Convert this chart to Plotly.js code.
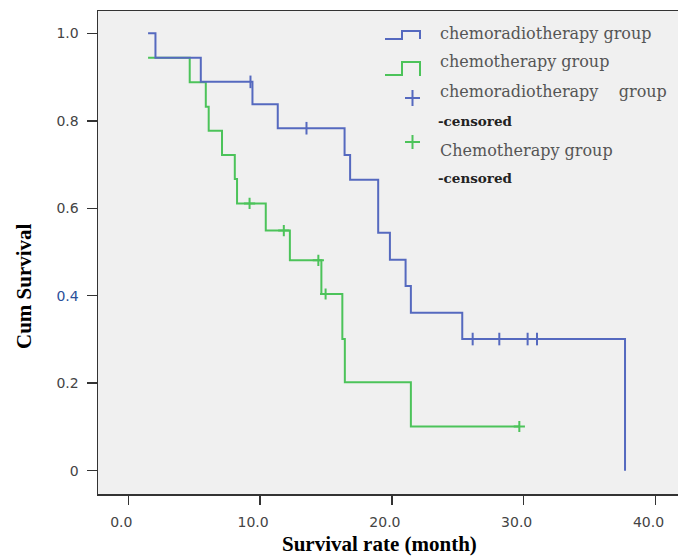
<!DOCTYPE html>
<html>
<head>
<meta charset="utf-8">
<script src="https://cdn.plot.ly/plotly-3.0.1.min.js"></script>
<style>html,body{margin:0;padding:0;background:#fff;}#chart{width:678px;height:558px;}</style>
</head>
<body>
<div id="chart"></div>
<script>
// ---- data ----
const BLUE_NAME = "chemoradiotherapy group";
const GREEN_NAME = "chemotherapy group";
const BLUE_CENS_NAME = "chemoradiotherapy&nbsp;&nbsp;&nbsp;&nbsp;group";
const GREEN_CENS_NAME = "Chemotherapy group";
const CENS_SUFFIX = "-censored";

const BLUE_T = [1.50, 2.06, 5.50, 9.42, 11.34, 16.41, 16.83, 18.96, 19.85, 21.04, 21.44, 25.34, 37.69];
const BLUE_S = [1.000, 0.944, 0.889, 0.838, 0.783, 0.722, 0.665, 0.544, 0.482, 0.422, 0.361, 0.301, 0.000];
const BLUE_CENS_T = [9.27, 13.52, 26.13, 28.15, 30.30, 31.01];
const BLUE_CENS_S = [0.889, 0.783, 0.301, 0.301, 0.301, 0.301];

const GREEN_T = [1.50, 4.66, 5.88, 6.10, 7.11, 8.08, 8.25, 10.43, 12.26, 14.65, 16.24, 16.43, 21.44, 29.67];
const GREEN_S = [0.944, 0.888, 0.832, 0.777, 0.722, 0.667, 0.611, 0.549, 0.481, 0.404, 0.301, 0.202, 0.101, 0.101];
const GREEN_CENS_T = [9.20, 11.80, 14.42, 14.97, 29.67];
const GREEN_CENS_S = [0.611, 0.549, 0.481, 0.404, 0.101];

const X_TICKS = [0, 10, 20, 30, 40];
const X_TICK_LABELS = ["0.0", "10.0", "20.0", "30.0", "40.0"];
const Y_TICKS = [0, 0.2, 0.4, 0.6, 0.8, 1.0];
const Y_TICK_LABELS = ["0", "0.2", "<span style='color:#2a4f9a'>0.4</span>", "0.6", "0.8", "1.0"];

const X_TITLE = "Survival rate (month)";
const Y_TITLE = "Cum Survival";

// ---- styling / layout ----
const BLUE = "#5569bf";
const GREEN = "#4cc35a";
const W = 678, H = 558;
const M = {l: 98, r: 0, t: 11, b: 64};
const PW = W - M.l - M.r, PH = H - M.t - M.b;
const px = x => (x - M.l) / PW;          // pixel -> paper (x)
const py = y => (H - M.b - y) / PH;      // pixel -> paper (y)

const traces = [
  {x: GREEN_T, y: GREEN_S, mode: "lines", line: {shape: "hv", color: GREEN, width: 2}, name: GREEN_NAME, showlegend: false},
  {x: BLUE_T, y: BLUE_S, mode: "lines", line: {shape: "hv", color: BLUE, width: 2}, name: BLUE_NAME, showlegend: false},
  {x: GREEN_CENS_T, y: GREEN_CENS_S, mode: "markers", marker: {symbol: "cross-thin-open", size: 8, color: GREEN, line: {color: GREEN, width: 2}}, showlegend: false},
  {x: BLUE_CENS_T, y: BLUE_CENS_S, mode: "markers", marker: {symbol: "line-ns-open", size: 9, color: BLUE, line: {color: BLUE, width: 2}}, showlegend: false}
];

function pathFromPx(pts) {
  return pts.map((p, i) => (i ? "L" : "M") + px(p[0]).toFixed(5) + "," + py(p[1]).toFixed(5)).join(" ");
}

const shapes = [
  // legend step icons
  {type: "path", xref: "paper", yref: "paper", path: pathFromPx([[385, 39], [402, 39], [402, 31], [420, 31], [420, 39]]), line: {color: BLUE, width: 2}},
  {type: "path", xref: "paper", yref: "paper", path: pathFromPx([[385, 75], [402, 75], [402, 62], [420, 62], [420, 76]]), line: {color: GREEN, width: 2}},
  // legend censor crosses
  {type: "line", xref: "paper", yref: "paper", x0: px(405), x1: px(420), y0: py(98), y1: py(98), line: {color: BLUE, width: 2}},
  {type: "line", xref: "paper", yref: "paper", x0: px(412.5), x1: px(412.5), y0: py(90), y1: py(106), line: {color: BLUE, width: 2}},
  {type: "line", xref: "paper", yref: "paper", x0: px(405), x1: px(420), y0: py(142), y1: py(142), line: {color: GREEN, width: 2}},
  {type: "line", xref: "paper", yref: "paper", x0: px(412.5), x1: px(412.5), y0: py(135), y1: py(149), line: {color: GREEN, width: 2}}
];

const legFont = {family: "DejaVu Serif", size: 16, color: "#555"};
const censFont = {family: "DejaVu Serif", size: 13.5, color: "#222", weight: "bold"};
function ann(text, x, y, font, extra) {
  return Object.assign({text: text, xref: "paper", yref: "paper", x: px(x), y: py(y), xanchor: "left", yanchor: "middle", showarrow: false, font: font}, extra || {});
}

const annotations = [
  ann(BLUE_NAME, 438, 33, legFont),
  ann(GREEN_NAME, 438, 62, legFont),
  ann(BLUE_CENS_NAME, 438, 92, legFont),
  ann("<b>" + CENS_SUFFIX + "</b>", 436, 121, censFont),
  ann(GREEN_CENS_NAME, 438, 150, legFont),
  ann("<b>" + CENS_SUFFIX + "</b>", 436, 178, censFont),
  {text: "<b>" + X_TITLE + "</b>", xref: "paper", yref: "paper", x: px(379), y: py(544), xanchor: "center", yanchor: "middle", showarrow: false,
   font: {family: "Liberation Serif", size: 21, color: "#000"}},
  {text: "<b>" + Y_TITLE + "</b>", xref: "paper", yref: "paper", x: px(24), y: py(286), xanchor: "center", yanchor: "middle", showarrow: false, textangle: -90,
   font: {family: "Liberation Serif", size: 21, color: "#000"}}
];

const tickFont = {family: "DejaVu Sans", size: 14, color: "#444"};

const layout = {
  width: W, height: H,
  margin: M,
  paper_bgcolor: "#ffffff",
  plot_bgcolor: "#f0f0f0",
  showlegend: false,
  xaxis: {
    range: [-2.30, 41.71], tickvals: X_TICKS, ticktext: X_TICK_LABELS,
    showgrid: false, zeroline: false, showline: true, mirror: true, linecolor: "#333", linewidth: 1.5,
    ticks: "outside", ticklen: 9, tickwidth: 1.5, tickcolor: "#333", tickfont: tickFont,
    ticklabelshift: -7, ticklabelstandoff: 6
  },
  yaxis: {
    range: [-0.0533, 1.051], tickvals: Y_TICKS, ticktext: Y_TICK_LABELS,
    showgrid: false, zeroline: false, showline: true, linecolor: "#333", linewidth: 1.5,
    ticks: "outside", ticklen: 10, tickwidth: 1.5, tickcolor: "#333", tickfont: tickFont,
    ticklabelstandoff: 5
  },
  shapes: shapes,
  annotations: annotations
};

Plotly.newPlot("chart", traces, layout, {displayModeBar: false, staticPlot: true});
</script>
</body>
</html>
